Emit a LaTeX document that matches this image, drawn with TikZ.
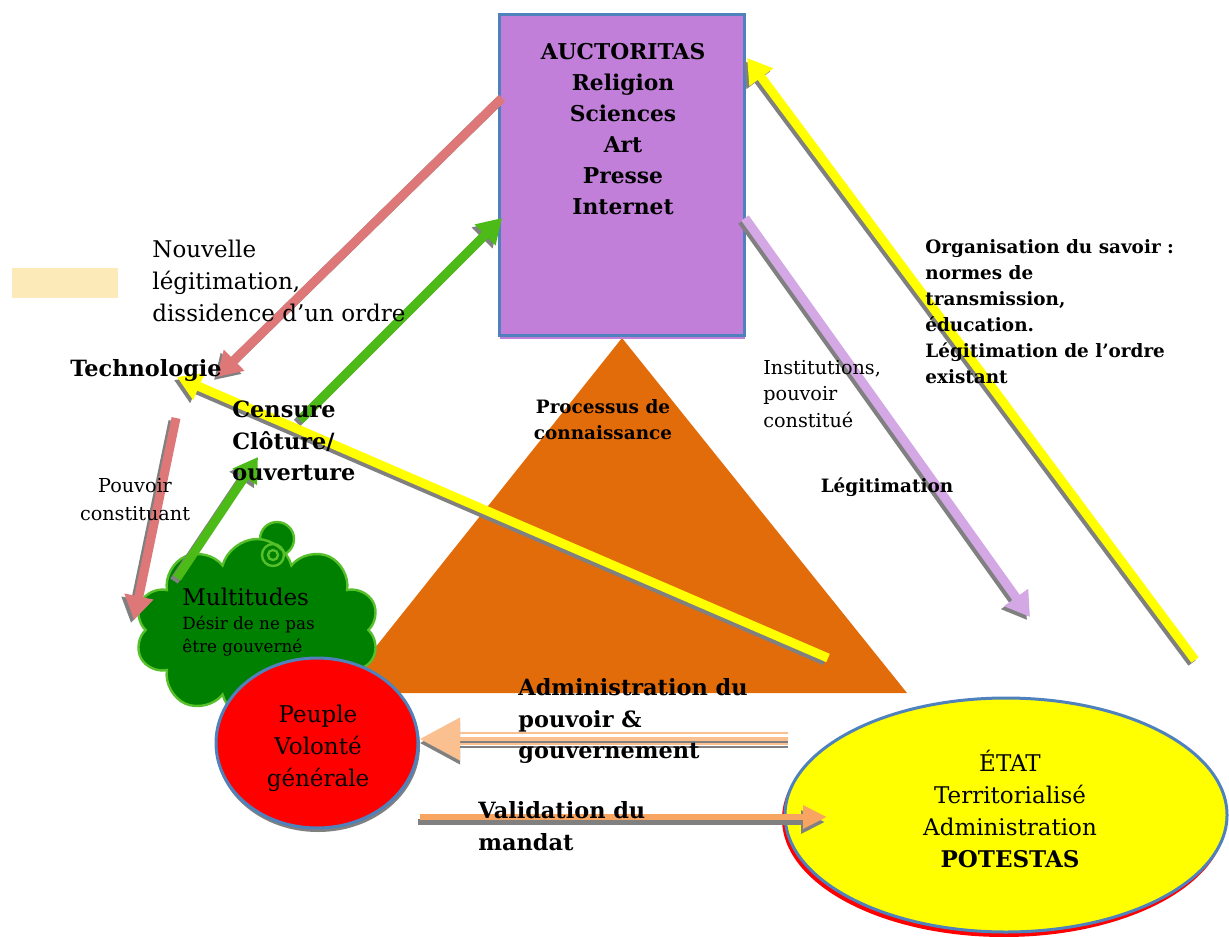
\documentclass[tikz,border=0pt]{standalone}
\usepackage{fontspec}
\setmainfont{DejaVu Serif}
\usetikzlibrary{arrows.meta,shapes.geometric,shapes.symbols}

\definecolor{boxpurple}{HTML}{C17FD9}
\definecolor{boxblue}{HTML}{4F81BD}
\definecolor{triorange}{HTML}{E36C0A}
\definecolor{arrpink}{HTML}{DE7878}
\definecolor{arrgreen}{HTML}{4CBB17}
\definecolor{arrlav}{HTML}{D4A7E5}
\definecolor{arryellow}{HTML}{FFFF00}
\definecolor{arrpeach}{HTML}{FAC090}
\definecolor{arrorange}{HTML}{F8A561}
\definecolor{shadegray}{HTML}{808080}
\definecolor{cloudgreen}{HTML}{008000}
\definecolor{cloudedge}{HTML}{55C02A}
\definecolor{legendbeige}{HTML}{FCEBB8}

\begin{document}
\begin{tikzpicture}[x=0.5pt, y=-0.5pt,
    every node/.style={inner sep=0pt},
    big/.style={font=\fontsize{11.5}{16}\selectfont},
    bigb/.style={font=\fontsize{11.2}{15.7}\selectfont\bfseries},
    boxtxt/.style={font=\fontsize{10.9}{15.5}\selectfont\bfseries},
    small/.style={font=\fontsize{9.6}{13.3}\selectfont},
    smallb/.style={font=\fontsize{9.2}{13}\selectfont\bfseries},
    tiny/.style={font=\fontsize{8.4}{11.5}\selectfont},
    arr/.style={line width=4.5pt, -{Triangle[length=12pt,width=14pt]}},
    shd/.style={arr, draw=shadegray}]
    \useasboundingbox (0,0) rectangle (1229,936);

    \node[fill=legendbeige, minimum width=53pt, minimum height=15pt] (legend) at (65,283) {};

    \coordinate (T1) at (622,338);
    \coordinate (T2) at (907,693);
    \coordinate (T3) at (339,693);
    \fill[triorange] (T1) -- (T2) -- (T3) -- cycle;

    \draw[draw=cloudedge, line width=1.2pt, fill=cloudgreen] (277,539) circle[radius=17];
    \node[cloud, cloud puffs=10, aspect=1.35, draw=cloudedge, line width=1.2pt, fill=cloudgreen, minimum width=122pt, minimum height=91pt] (multi) at (257,630) {};
    \draw[cloudedge, line width=1.2pt] (273,555) circle[radius=11];
    \draw[cloudedge, line width=1.2pt] (273,555) circle[radius=5];

    \node[ellipse, fill=shadegray, minimum width=102pt, minimum height=86pt] (peupleshd) at (318,746) {};
    \node[ellipse, fill=red, draw=boxblue, line width=1.5pt, minimum width=101pt, minimum height=85pt] (peuple) at (317,743) {};
    \node[big, align=center] (peupletxt) at (318,748) {Peuple\\Volonté\\générale};

    \node[ellipse, fill=red, minimum width=222pt, minimum height=118pt] (etatshd) at (1004,819) {};
    \node[ellipse, fill=arryellow, draw=boxblue, line width=1.5pt, minimum width=221pt, minimum height=117pt] (etat) at (1006,815) {};
    \node[big, align=center] (etattxt) at (1010,809) {ÉTAT\\Territorialisé\\Administration\\\textbf{POTESTAS}};

    \node[fill=boxpurple, minimum width=122.5pt, minimum height=160pt] (auctshd) at (622,179) {};
    \node[fill=boxpurple, draw=boxblue, line width=1.5pt, minimum width=122.5pt, minimum height=160pt] (auct) at (622,175) {};
    \node[boxtxt, align=center] (auctxt) at (623,129) {AUCTORITAS\\Religion\\Sciences\\Art\\Presse\\Internet};

    \coordinate (a1) at (502,98);
    \coordinate (a2) at (217,377);
    \coordinate (b1) at (300,420);
    \coordinate (b2) at (502,218);
    \coordinate (c1) at (177,578);
    \coordinate (c2) at (258,457);
    \coordinate (d1) at (176,418);
    \coordinate (d2) at (134,620);
    \coordinate (e1) at (828,658);
    \coordinate (e2) at (177,377);
    \coordinate (f1) at (745,218);
    \coordinate (f2) at (1030,617);
    \coordinate (g1) at (1195,660);
    \coordinate (g2) at (747,58);
    \coordinate (h1) at (788,739);
    \coordinate (h2) at (420,739);
    \coordinate (h3) at (460,739);
    \coordinate (v1) at (420,817);
    \coordinate (v2) at (827,817);

    \draw[shd] ([shift={(-3,3)}]a1) -- ([shift={(-3,3)}]a2);
    \draw[arr, draw=arrpink] (a1) -- (a2);
    \draw[shd] ([shift={(-3,3)}]b1) -- ([shift={(-3,3)}]b2);
    \draw[arr, draw=arrgreen] (b1) -- (b2);
    \draw[shd] ([shift={(-3,3)}]c1) -- ([shift={(-3,3)}]c2);
    \draw[arr, draw=arrgreen] (c1) -- (c2);
    \draw[shd] ([shift={(-3,3)}]d1) -- ([shift={(-3,3)}]d2);
    \draw[arr, draw=arrpink] (d1) -- (d2);
    \draw[shd] ([shift={(-3,3)}]e1) -- ([shift={(-3,3)}]e2);
    \draw[arr, draw=arryellow] (e1) -- (e2);
    \draw[shd] ([shift={(-3,3)}]f1) -- ([shift={(-3,3)}]f2);
    \draw[arr, draw=arrlav] (f1) -- (f2);
    \draw[shd] ([shift={(-3,3)}]g1) -- ([shift={(-3,3)}]g2);
    \draw[arr, draw=arryellow] (g1) -- (g2);

    \draw[shadegray, line width=2pt, -{Triangle[length=20pt,width=21pt]}] ([shift={(0,4)}]h1) -- ([shift={(0,4)}]h2);
    \draw[arrpeach, line width=2pt, -{Triangle[length=20pt,width=21pt]}] (h1) -- (h2);
    \draw[arrpeach, line width=1pt] ([shift={(0,-6)}]h1) -- ([shift={(0,-6)}]h3);
    \draw[arrpeach, line width=1pt] ([shift={(0,5)}]h1) -- ([shift={(0,5)}]h3);
    \draw[shadegray, line width=1pt] ([shift={(0,8)}]h1) -- ([shift={(0,8)}]h3);

    \draw[shadegray, line width=3pt, -{Triangle[length=12pt,width=11pt]}] ([shift={(-2,5)}]v1) -- ([shift={(-2,5)}]v2);
    \draw[arrorange, line width=3pt, -{Triangle[length=12pt,width=11pt]}] (v1) -- (v2);

    \node[big, align=left, anchor=west] (nouv) at (152,281) {Nouvelle\\légitimation,\\dissidence d’un ordre};
    \node[bigb] (techno) at (146,370) {Technologie};
    \node[bigb, align=left, anchor=west] (censure) at (232,441) {Censure\\Clôture/\\ouverture};
    \node[small, align=center, font=\fontsize{9.6}{14}\selectfont] (constituant) at (135,500) {Pouvoir\\constituant};
    \node[smallb, align=center] (processus) at (603,420) {Processus de\\connaissance};
    \node[small, align=left, anchor=west] (institutions) at (763,394) {Institutions,\\pouvoir\\constitué};
    \node[smallb] (legit) at (887,487) {Légitimation};
    \node[smallb, align=left, anchor=west] (savoir) at (925,312) {Organisation du savoir :\\normes de\\transmission,\\éducation.\\Légitimation de l’ordre\\existant};
    \node[bigb, align=left, anchor=west] (admin) at (518,721) {Administration du\\pouvoir \&\\gouvernement};
    \node[bigb, align=left, anchor=west] (mandat) at (478,826) {Validation du\\mandat};
    \node[big, anchor=west] (multitxt) at (182,597) {Multitudes};
    \node[tiny, align=left, anchor=west] (desir) at (182,636) {Désir de ne pas\\être gouverné};
\end{tikzpicture}
\end{document}
